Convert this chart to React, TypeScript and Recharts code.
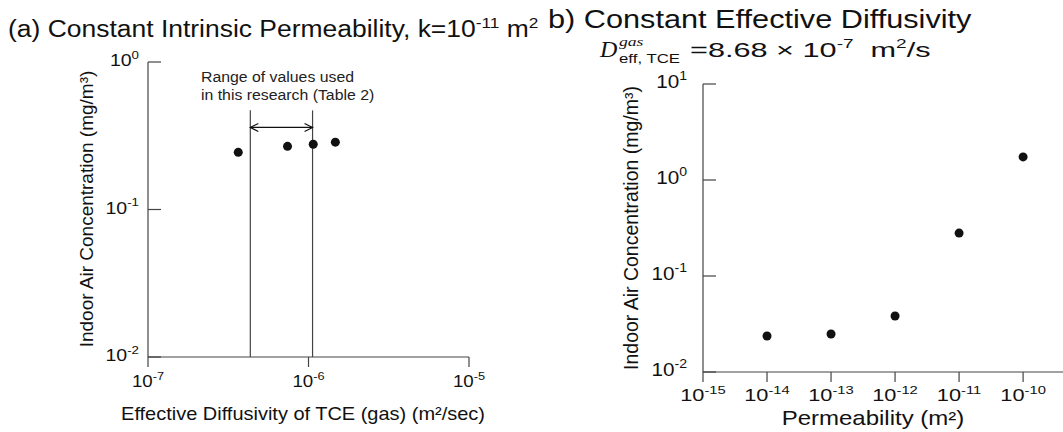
import React from "react";
import { ScatterChart, Scatter, XAxis, YAxis, ReferenceLine } from "recharts";

const FONT = "'Liberation Sans', Arial, Helvetica, sans-serif";
const SERIF = "'Liberation Serif', 'Times New Roman', serif";
const INK = "#111";
const AXIS = "#444";

// (a) constant intrinsic permeability, k = 1e-11 m2
const diffusivityTicks = [1e-7, 1e-6, 1e-5];
const concTicksA = [1e-2, 1e-1, 1];
const diffusivity = [3.65e-7, 7.4e-7, 1.07e-6, 1.47e-6];
const indoorConcA = [0.244, 0.268, 0.277, 0.286];
const rangeLow = 4.34e-7;
const rangeHigh = 1.06e-6;
const rangeTop = 0.47;
const arrowLevel = 0.36;

// (b) constant effective diffusivity
const permeabilityTicks = [1e-15, 1e-14, 1e-13, 1e-12, 1e-11, 1e-10];
const concTicksB = [1e-2, 1e-1, 1, 10];
const permeability = [1e-14, 1e-13, 1e-12, 1e-11, 1e-10];
const indoorConcB = [0.0237, 0.0249, 0.0383, 0.28, 1.74];

const dataA = diffusivity.map((x, i) => ({ x, y: indoorConcA[i] }));
const dataB = permeability.map((x, i) => ({ x, y: indoorConcB[i] }));

const exp10 = (v: number) => Math.round(Math.log10(v));

// the scanned figure is stretched sideways, so text gets a horizontal scale
function Pow({ x, y, value, size, anchor, sx }: any) {
  return (
    <g transform={`translate(${x},${y}) scale(${sx},1)`}>
      <text x={0} y={0} textAnchor={anchor} fontFamily={FONT} fontSize={size} fill={INK}>
        <tspan>10</tspan>
        <tspan dy={-size * 0.42} fontSize={size * 0.68}>
          {exp10(value)}
        </tspan>
      </text>
    </g>
  );
}

const xTick = (size: number, drop: number, sx: number) => (p: any) =>
  <Pow x={p.x} y={p.y + drop} value={p.payload.value} size={size} anchor="middle" sx={sx} />;

const yTick = (size: number, gap: number, sx: number) => (p: any) => (
  <g>
    <line x1={p.x} y1={p.y} x2={p.x + 13} y2={p.y} stroke={AXIS} strokeWidth={1.2} />
    <Pow x={p.x - gap} y={p.y + 4} value={p.payload.value} size={size} anchor="end" sx={sx} />
  </g>
);

const dot = (p: any) => <circle cx={p.cx} cy={p.cy} r={4.5} fill={INK} />;

function ArrowShape(p: any) {
  const { x1, y1, x2, y2 } = p;
  const h = 8;
  const w = 4;
  return (
    <g stroke={INK} strokeWidth={1.2} fill="none">
      <line x1={x1} y1={y1} x2={x2} y2={y2} />
      <polyline points={`${x1 + h},${y1 - w} ${x1},${y1} ${x1 + h},${y1 + w}`} />
      <polyline points={`${x2 - h},${y2 - w} ${x2},${y2} ${x2 - h},${y2 + w}`} />
    </g>
  );
}

const yTitle = (cx: number, cy: number, size: number) => () => (
  <text
    transform={`translate(${cx},${cy}) rotate(-90)`}
    textAnchor="middle"
    dominantBaseline="central"
    fontFamily={FONT}
    fontSize={size}
    fill={INK}
  >
    Indoor Air Concentration (mg/m³)
  </text>
);

const xTitle = (cx: number, by: number, size: number, sx: number, text: string) => () => (
  <g transform={`translate(${cx},${by}) scale(${sx},1)`}>
    <text x={0} y={0} textAnchor="middle" fontFamily={FONT} fontSize={size} fill={INK}>
      {text}
    </text>
  </g>
);

const stretch = (k: number): React.CSSProperties => ({
  transform: `scaleX(${k})`,
  transformOrigin: "left top",
  whiteSpace: "nowrap",
  lineHeight: 1,
});

const sup = (size: number, lift: number): React.CSSProperties => ({
  fontSize: size,
  position: "relative",
  top: -lift,
});

export default function App() {
  return (
    <div
      style={{
        position: "absolute",
        left: 0,
        top: 0,
        width: 1063,
        height: 432,
        background: "#fff",
        fontFamily: FONT,
        color: INK,
        overflow: "hidden",
      }}
    >
      {/* panel (a) */}
      <div style={{ position: "absolute", left: 0, top: 0 }}>
        <ScatterChart width={540} height={432} margin={{ top: 62, right: 71, bottom: 25, left: 68 }}>
          <XAxis
            type="number"
            dataKey="x"
            scale="log"
            domain={[1e-7, 1e-5]}
            ticks={diffusivityTicks}
            allowDataOverflow
            height={50}
            tickSize={10}
            tickMargin={2}
            axisLine={{ stroke: AXIS, strokeWidth: 1.2 }}
            tickLine={{ stroke: AXIS, strokeWidth: 1.2 }}
            tick={xTick(17, 18, 1.1)}
            label={{ content: xTitle(303, 420, 18, 1.11, "Effective Diffusivity of TCE (gas) (m²/sec)") }}
          />
          <YAxis
            type="number"
            dataKey="y"
            scale="log"
            domain={[1e-2, 1]}
            ticks={concTicksA}
            allowDataOverflow
            width={80}
            tickSize={0}
            tickMargin={0}
            tickLine={false}
            axisLine={{ stroke: AXIS, strokeWidth: 1.2 }}
            tick={yTick(17, 9, 1.15)}
            label={{ content: yTitle(86, 209, 19) }}
          />
          <ReferenceLine
            segment={[{ x: rangeLow, y: 1e-2 }, { x: rangeLow, y: rangeTop }]}
            stroke={AXIS}
            strokeWidth={1.2}
            ifOverflow="visible"
          />
          <ReferenceLine
            segment={[{ x: rangeHigh, y: 1e-2 }, { x: rangeHigh, y: rangeTop }]}
            stroke={AXIS}
            strokeWidth={1.2}
            ifOverflow="visible"
          />
          <ReferenceLine
            segment={[{ x: rangeLow, y: arrowLevel }, { x: rangeHigh, y: arrowLevel }]}
            shape={ArrowShape}
            ifOverflow="visible"
          />
          <Scatter data={dataA} shape={dot} isAnimationActive={false} />
        </ScatterChart>
      </div>

      <div style={{ position: "absolute", left: 8, top: 18, fontSize: 23, ...stretch(1.15) }}>
        (a) Constant Intrinsic Permeability, k=10<span style={sup(15, 9)}>-11</span> m
        <span style={sup(15, 9)}>2</span>
      </div>
      <div
        style={{ position: "absolute", left: 201, top: 68, fontSize: 14, color: "#222", ...stretch(1.13), lineHeight: "18px" }}
      >
        Range of values used
        <br />
        in this research (Table 2)
      </div>

      {/* panel (b) */}
      <div style={{ position: "absolute", left: 560, top: 0 }}>
        <ScatterChart width={503} height={432} margin={{ top: 84, right: 0, bottom: 10, left: 63 }}>
          <XAxis
            type="number"
            dataKey="x"
            scale="log"
            domain={[1e-15, 4.2e-10]}
            ticks={permeabilityTicks}
            allowDataOverflow
            height={50}
            tickSize={10}
            tickMargin={2}
            axisLine={{ stroke: AXIS, strokeWidth: 1.2 }}
            tickLine={{ stroke: AXIS, strokeWidth: 1.2 }}
            tick={xTick(17, 17, 1.28)}
            label={{ content: xTitle(313, 425, 20, 1.2, "Permeability (m²)") }}
          />
          <YAxis
            type="number"
            dataKey="y"
            scale="log"
            domain={[1e-2, 10]}
            ticks={concTicksB}
            allowDataOverflow
            width={80}
            tickSize={0}
            tickMargin={0}
            tickLine={false}
            axisLine={{ stroke: AXIS, strokeWidth: 1.2 }}
            tick={yTick(18, 16, 1.15)}
            label={{ content: yTitle(71, 228, 19.5) }}
          />
          <Scatter data={dataB} shape={dot} isAnimationActive={false} />
        </ScatterChart>
      </div>

      <div style={{ position: "absolute", left: 548, top: 6, fontSize: 26, ...stretch(1.18) }}>
        b) Constant Effective Diffusivity
      </div>
      <div style={{ position: "absolute", left: 600, top: 37, fontFamily: SERIF, fontStyle: "italic", fontSize: 24, lineHeight: 1 }}>
        D
      </div>
      <div
        style={{ position: "absolute", left: 619, top: 35, fontFamily: SERIF, fontStyle: "italic", fontSize: 13, ...stretch(1.35) }}
      >
        gas
      </div>
      <div style={{ position: "absolute", left: 619, top: 53, fontSize: 12, ...stretch(1.4) }}>eff, TCE</div>
      <div style={{ position: "absolute", left: 690, top: 39, fontSize: 21, ...stretch(1.46) }}>
        =8.68 × 10<span style={sup(13, 9)}>-7</span>
        {"\u00a0\u00a0"}m<span style={sup(13, 9)}>2</span>/s
      </div>
    </div>
  );
}
